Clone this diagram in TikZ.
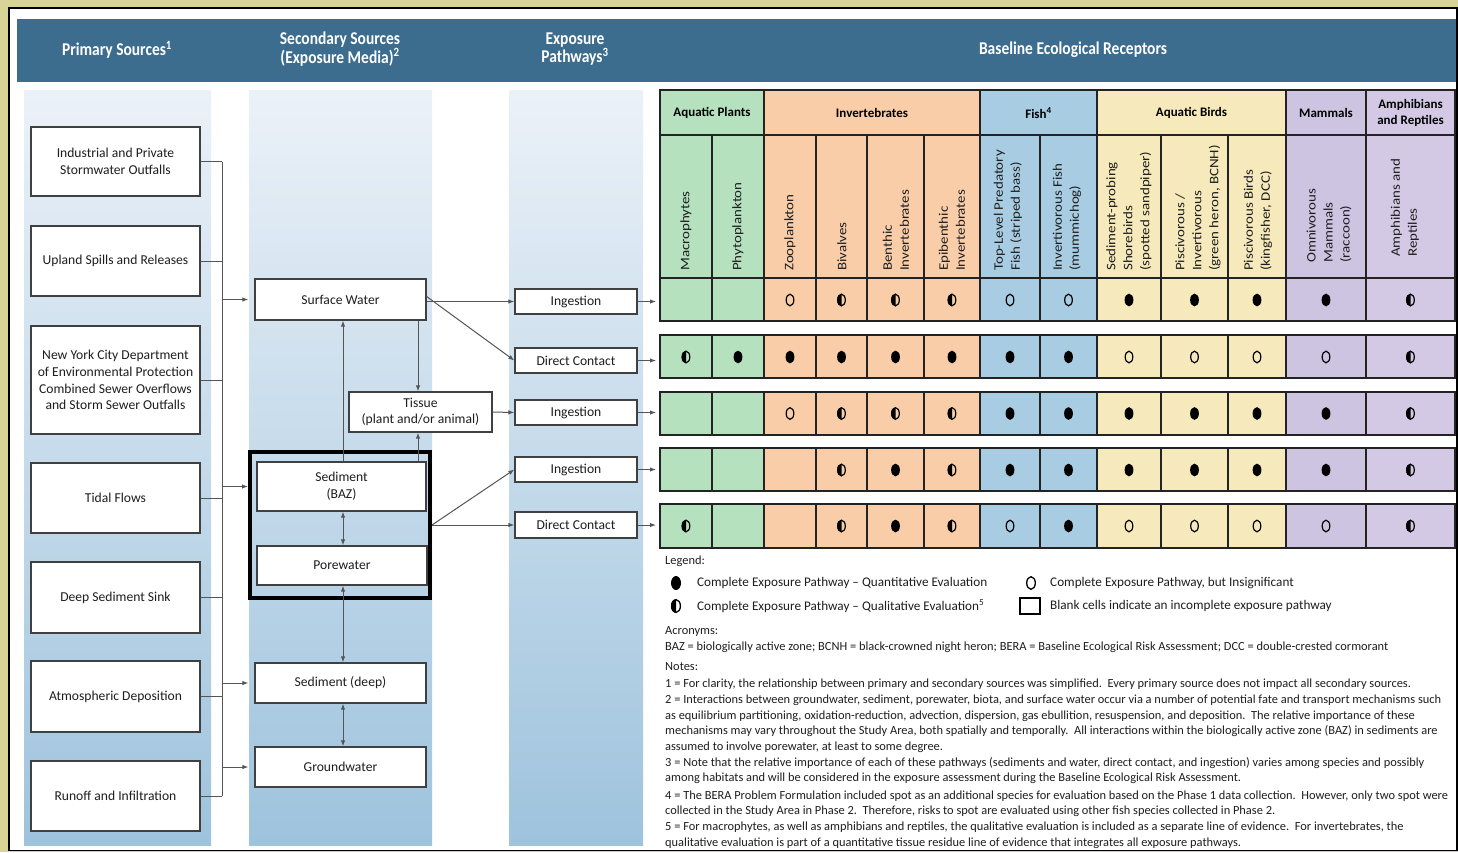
\documentclass[tikz,border=0pt]{standalone}
\usepackage{fontspec}
\setmainfont{Carlito}
\usetikzlibrary{arrows.meta}
\definecolor{frameY}{RGB}{216,212,150}
\definecolor{hdr}{RGB}{60,108,142}
\definecolor{panT}{RGB}{235,241,248}
\definecolor{panB}{RGB}{158,195,221}
\definecolor{cG}{RGB}{182,225,191}
\definecolor{cP}{RGB}{248,205,168}
\definecolor{cB}{RGB}{168,205,227}
\definecolor{cY}{RGB}{246,233,187}
\definecolor{cM}{RGB}{205,196,226}
\definecolor{cA}{RGB}{211,201,229}
\definecolor{lnC}{RGB}{85,85,85}
\definecolor{bxC}{RGB}{64,64,64}
\definecolor{tbl}{RGB}{35,35,35}
\definecolor{txt}{RGB}{30,30,30}

\newcommand\hd[1]{\scalebox{0.86}[1]{#1}}
\newcommand\symF[2]{\fill[black] (#1,#2) ellipse [x radius=4.4, y radius=6.4];}
\newcommand\symO[2]{\draw[black, line width=1.2pt] (#1,#2) ellipse [x radius=3.8, y radius=5.8];}
\newcommand\symH[2]{\begin{scope}\clip (#1-7,#2-8) rectangle (#1,#2+8); \fill[black] (#1,#2) ellipse [x radius=4.4, y radius=6.4];\end{scope}\draw[black, line width=1.2pt] (#1,#2) ellipse [x radius=3.8, y radius=5.8];}
\newcommand\symN[2]{}

\tikzset{
  box/.style={draw=bxC, line width=1.3pt, fill=white, align=center, inner sep=0pt, text=txt, font=\fontsize{13.6}{16.8}\selectfont},
  conn/.style={draw=lnC, line width=1pt, -{Latex[length=6pt,width=4.5pt]}},
  conn2/.style={draw=lnC, line width=1pt, {Latex[length=6pt,width=4.5pt]}-{Latex[length=6pt,width=4.5pt]}},
  plainln/.style={draw=lnC, line width=1pt},
  hdrtxt/.style={text=white, font=\fontsize{18}{17}\selectfont\bfseries, align=center, inner sep=0pt},
  grp/.style={text=black, font=\fontsize{13}{16}\selectfont\bfseries, align=center, inner sep=0pt},
  rot/.style={rotate=90, xscale=1.15, anchor=west, align=left, inner sep=0pt, text=txt, font=\fontsize{13}{17}\selectfont},
  tline/.style={draw=tbl, line width=1.8pt},
  note/.style={anchor=west, inner sep=0pt, text=txt, font=\fontsize{12.4}{15}\selectfont},
  leg/.style={anchor=west, inner sep=0pt, text=txt, font=\fontsize{13.2}{15}\selectfont},
}

\begin{document}
\begin{tikzpicture}[x=1pt,y=-1pt]
\useasboundingbox (0,0) rectangle (1458,852);
\fill[frameY] (0,0) rectangle (1458,852);
\draw[fill=white, line width=1.5pt, draw=black] (9,8) rectangle (1457,850.5);
% header band
\fill[hdr] (17,19) rectangle (1456,82);
\node[hdrtxt] (h1) at (117,50) {\hd{Primary Sources\textsuperscript{1}}};
\node[hdrtxt] (h2) at (340,49) {\hd{Secondary Sources}\\\hd{(Exposure Media)\textsuperscript{2}}};
\node[hdrtxt] (h3) at (575,49) {\hd{Exposure}\\\hd{Pathways\textsuperscript{3}}};
\node[hdrtxt] (h4) at (1073,50) {\hd{Baseline Ecological Receptors}};
% panels
\shade[top color=panT, bottom color=panB] (24,90) rectangle (211,845);
\shade[top color=panT, bottom color=panB] (249,90) rectangle (432,845);
\shade[top color=panT, bottom color=panB] (509,90) rectangle (643,845);

% ---------- table ----------
\foreach \xa/\xb/\c in {660/712/cG,712/764/cG,764/816/cP,816/867/cP,867/924/cP,924/980/cP,980/1040/cB,1040/1097/cB,1097/1161/cY,1161/1228/cY,1228/1286/cY,1286/1366/cM,1366/1455/cA} {
  \fill[\c] (\xa,90) rectangle (\xb,278);
  \foreach \ya/\yb in {278/321,335/378,392/435,448/491,504/548} \fill[\c] (\xa,\ya) rectangle (\xb,\yb);
}
\draw[tline] (660,90) rectangle (1455,278);
\draw[tline] (660,135) -- (1455,135);
\foreach \x in {764,980,1097,1286,1366} \draw[tline] (\x,90) -- (\x,278);
\foreach \x in {712,816,867,924,1040,1161,1228} \draw[tline] (\x,135) -- (\x,278);
\foreach \ya/\yb in {278/321,335/378,392/435,448/491,504/548} {
  \draw[tline] (660,\ya) rectangle (1455,\yb);
  \foreach \x in {712,764,816,867,924,980,1040,1097,1161,1228,1286,1366} \draw[tline] (\x,\ya) -- (\x,\yb);
}
% group headers
\node[grp] (g1) at (712,113) {Aquatic Plants};
\node[grp] (g2) at (872,113) {Invertebrates};
\node[grp] (g3) at (1038.5,113) {Fish\textsuperscript{4}};
\node[grp] (g4) at (1191.5,113) {Aquatic Birds};
\node[grp] (g5) at (1326,113) {Mammals};
\node[grp] (g6) at (1410.5,113) {Amphibians\\and Reptiles};
% rotated labels
\node[rot] (c1) at (686,271) {Macrophytes};
\node[rot] (c2) at (738,271) {Phytoplankton};
\node[rot] (c3) at (790,271) {Zooplankton};
\node[rot] (c4) at (842,271) {Bivalves};
\node[rot] (c5) at (896,271) {Benthic\\Invertebrates};
\node[rot] (c6) at (952,271) {Epibenthic\\Invertebrates};
\node[rot] (c7) at (1008,271) {Top-Level Predatory\\Fish (striped bass)};
\node[rot] (c8) at (1067,271) {Invertivorous Fish\\(mummichog)};
\node[rot] (c9) at (1129,271) {Sediment-probing\\Shorebirds\\(spotted sandpiper)};
\node[rot] (c10) at (1198,271) {Piscivorous /\\Invertivorous\\(green heron, BCNH)};
\node[rot] (c11) at (1258,271) {Piscivorous Birds\\(kingfisher, DCC)};
\node[rot] (c12) at (1329,263) {Omnivorous\\Mammals\\(raccoon)};
\node[rot] (c13) at (1405,257) {Amphibians and\\Reptiles};
% symbols
\def\colx{{686,738,790,841.5,895.5,952,1010,1068.5,1129,1194.5,1257,1326,1410.5}}
\foreach \yy/\row in {300/{N,N,O,H,H,H,O,O,F,F,F,F,H},357/{H,F,F,F,F,F,F,F,O,O,O,O,H},413.5/{N,N,O,H,H,H,F,F,F,F,F,F,H},470/{N,N,N,H,F,H,F,F,F,F,F,F,H},526/{H,N,N,H,F,H,O,F,O,O,O,O,H}} {
  \foreach \s [count=\i] in \row {
    \pgfmathsetmacro\xx{\colx[\i-1]}
    \csname sym\s\endcsname{\xx}{\yy}
  }
}

% ---------- primary sources ----------
\node[box, minimum width=169, minimum height=69] (p1) at (115.5,161.5) {Industrial and Private\\Stormwater Outfalls};
\node[box, minimum width=169, minimum height=70] (p2) at (115.5,261) {Upland Spills and Releases};
\node[box, minimum width=169, minimum height=108] (p3) at (115.5,380) {New York City Department\\of Environmental Protection\\Combined Sewer Overflows\\and Storm Sewer Outfalls};
\node[box, minimum width=169, minimum height=70] (p4) at (115.5,498) {Tidal Flows};
\node[box, minimum width=169, minimum height=71] (p5) at (115.5,597.5) {Deep Sediment Sink};
\node[box, minimum width=169, minimum height=71] (p6) at (115.5,696.5) {Atmospheric Deposition};
\node[box, minimum width=169, minimum height=70] (p7) at (115.5,796) {Runoff and Infiltration};

% ---------- secondary sources ----------
\node[box, minimum width=171, minimum height=41] (sw) at (340.5,299.5) {Surface Water};
\node[box, minimum width=143, minimum height=40] (ti) at (420.5,412) {Tissue\\(plant and/or animal)};
\node[box, minimum width=169, minimum height=49] (baz) at (341.5,486.5) {Sediment\\(BAZ)};
\node[box, minimum width=170, minimum height=39] (pw) at (342,565.5) {Porewater};
\node[draw=black, line width=4pt, minimum width=180, minimum height=146, inner sep=0pt] (zone) at (340,525) {};
\node[box, minimum width=171, minimum height=40] (sd) at (340.5,683) {Sediment (deep)};
\node[box, minimum width=171, minimum height=40] (gw) at (340.5,767) {Groundwater};

% ---------- pathways ----------
\node[box, minimum width=122, minimum height=25] (i1) at (576,301.5) {Ingestion};
\node[box, minimum width=122, minimum height=25] (d1) at (576,360.5) {Direct Contact};
\node[box, minimum width=122, minimum height=25] (i2) at (576,412.5) {Ingestion};
\node[box, minimum width=122, minimum height=25] (i3) at (576,469.5) {Ingestion};
\node[box, minimum width=122, minimum height=26] (d2) at (576,525) {Direct Contact};

% ---------- connectors ----------
\coordinate (bus) at (222,0);
\coordinate (vA) at (343,0);
\coordinate (vB) at (418,0);
\coordinate (tab) at (656,0);
\foreach \p in {p1,p2,p3,p4,p5,p6,p7} \draw[plainln] (\p.east) -- (\p.east -| bus);
\draw[plainln] (p1.east -| bus) -- (p7.east -| bus);
\draw[conn] (bus |- sw.west) -- ([xshift=-6pt]sw.west);
\draw[conn] (bus |- baz.west) -- (zone.west |- baz.west);
\draw[conn] (bus |- sd.west) -- ([xshift=-6pt]sd.west);
\draw[conn] (bus |- gw.west) -- ([xshift=-6pt]gw.west);

\draw[conn] (vA |- baz.north) -- (vA |- sw.south);
\draw[conn] (vB |- sw.south) -- (vB |- ti.north);
\draw[conn] (vB |- baz.north) -- (vB |- ti.south);
\draw[conn2] (vA |- baz.south) -- (vA |- pw.north);
\draw[conn2] (vA |- pw.south) -- (vA |- sd.north);
\draw[conn2] (vA |- sd.south) -- (vA |- gw.north);

\draw[conn] (sw.east |- i1.west) -- (i1.west);
\draw[conn] ([yshift=3pt]sw.east) -- (d1.west);
\draw[conn] (ti.east) -- (i2.west);
\draw[conn] (zone.east |- d2.west) -- (i3.west);
\draw[conn] (zone.east |- d2.west) -- (d2.west);
\foreach \q in {i1,d1,i2,i3,d2} \draw[conn] (\q.east) -- (\q.east -| tab);

% ---------- legend & notes ----------
\node[note] (lg) at (665,561) {Legend:};
\fill[black] (676,583) ellipse [x radius=5, y radius=7];
\node[leg] (lq) at (697,583) {Complete Exposure Pathway – Quantitative Evaluation};
\draw[black, line width=1.3pt] (1031,583) ellipse [x radius=4.3, y radius=6.3];
\node[leg] (li) at (1050,583) {Complete Exposure Pathway, but Insignificant};
\begin{scope}\clip (668,596) rectangle (676,616); \fill[black] (676,606) ellipse [x radius=5, y radius=7];\end{scope}
\draw[black, line width=1.3pt] (676,606) ellipse [x radius=4.4, y radius=6.4];
\node[leg] (lql) at (697,606) {Complete Exposure Pathway – Qualitative Evaluation\textsuperscript{5}};
\draw[black, line width=1.2pt] (1020,598) rectangle (1040,614);
\node[leg] (lb) at (1050,606) {Blank cells indicate an incomplete exposure pathway};

\node[note] (ac) at (665,632) {Acronyms:};
\node[note] (ac1) at (665,647) {BAZ = biologically active zone; BCNH = black-crowned night heron; BERA = Baseline Ecological Risk Assessment; DCC = double-crested cormorant};
\node[note] (nt) at (665,667) {Notes:};
\node[note] (n1) at (665,684) {1 = For clarity, the relationship between primary and secondary sources was simplified.\ \ Every primary source does not impact all secondary sources.};
\node[note] (n2a) at (665,700) {2 = Interactions between groundwater, sediment, porewater, biota, and surface water occur via a number of potential fate and transport mechanisms such};
\node[note] (n2b) at (665,716) {as equilibrium partitioning, oxidation-reduction, advection, dispersion, gas ebullition, resuspension, and deposition.\ \ The relative importance of these};
\node[note] (n2c) at (665,731) {mechanisms may vary throughout the Study Area, both spatially and temporally.\ \ All interactions within the biologically active zone (BAZ) in sediments are};
\node[note] (n2d) at (665,747) {assumed to involve porewater, at least to some degree.};
\node[note] (n3a) at (665,763) {3 = Note that the relative importance of each of these pathways (sediments and water, direct contact, and ingestion) varies among species and possibly};
\node[note] (n3b) at (665,778) {among habitats and will be considered in the exposure assessment during the Baseline Ecological Risk Assessment.};
\node[note] (n4a) at (665,796) {4 = The BERA Problem Formulation included spot as an additional species for evaluation based on the Phase 1 data collection.\ \ However, only two spot were};
\node[note] (n4b) at (665,811) {collected in the Study Area in Phase 2.\ \ Therefore, risks to spot are evaluated using other fish species collected in Phase 2.};
\node[note] (n5a) at (665,827) {5 = For macrophytes, as well as amphibians and reptiles, the qualitative evaluation is included as a separate line of evidence.\ \ For invertebrates, the};
\node[note] (n5b) at (665,843) {qualitative evaluation is part of a quantitative tissue residue line of evidence that integrates all exposure pathways.};
\end{tikzpicture}
\end{document}
